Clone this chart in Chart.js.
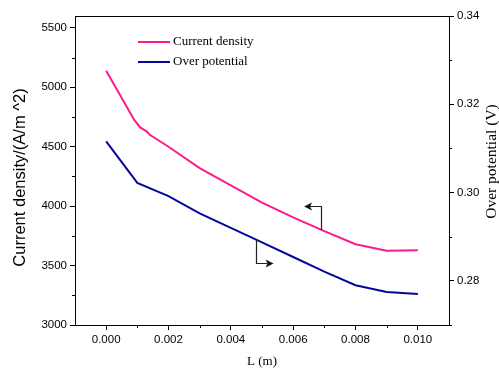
<!DOCTYPE html>
<html>
<head>
<meta charset="utf-8">
<script src="https://cdn.jsdelivr.net/npm/chart.js@4/dist/chart.umd.min.js"></script>
<style>
  html, body { margin: 0; padding: 0; background: #fff; }
  canvas { display: block; }
</style>
</head>
<body>
<canvas id="c" width="499" height="368"></canvas>
<script>
// Position along the electrode, L (m)
const densityL = [0, 0.0005, 0.0009, 0.0011, 0.0013, 0.0014, 0.002, 0.003, 0.004, 0.005, 0.006, 0.007, 0.008, 0.009, 0.010];
// Current density (A/m^2)
const densityValues = [5140, 4910, 4725, 4660, 4630, 4600, 4500, 4320, 4175, 4030, 3905, 3790, 3680, 3625, 3630];

const potentialL = [0, 0.001, 0.002, 0.003, 0.004, 0.005, 0.006, 0.007, 0.008, 0.009, 0.010];
// Over potential (V)
const potentialValues = [0.3116, 0.3022, 0.2992, 0.2953, 0.2920, 0.2887, 0.2854, 0.2821, 0.2790, 0.2775, 0.2770];

// Tick labels
const xTicks = [0, 0.002, 0.004, 0.006, 0.008, 0.010];
const xMinor = [0.001, 0.003, 0.005, 0.007, 0.009];
const leftTicks = [3000, 3500, 4000, 4500, 5000, 5500];
const leftMinor = [3250, 3750, 4250, 4750, 5250];
const rightTicks = [0.28, 0.30, 0.32, 0.34];
const rightMinor = [0.27, 0.29, 0.31, 0.33];

// Axis titles
const xTitle = 'L (m)';
const leftTitle = 'Current density/(A/m ^2)';
const rightTitle = 'Over potential (V)';

// Pointer arrows tying each curve to its axis (data units)
const densityPointer = { x: 0.0069, from: 3800, to: 4000, tip: 0.00635 };
const potentialPointer = { x: 0.0048, from: 0.2893, to: 0.2840, tip: 0.00537 };

const PINK = '#ff1a8c';
const NAVY = '#06069a';
const SERIF = '"Liberation Serif", "Times New Roman", serif';
const SANS = '"Liberation Sans", Arial, sans-serif';
const tickFont = { family: 'Liberation Sans, Arial, sans-serif', size: 11.5 };

const toPoints = (xs, ys) => xs.map((x, i) => ({ x, y: ys[i] }));

function setTicks(values) {
  return (scale) => { scale.ticks = values.map(v => ({ value: v })); };
}

const decorations = {
  id: 'decorations',
  afterDraw(chart) {
    const { ctx, chartArea: a, scales } = chart;
    const sx = scales.x, sl = scales.y, sr = scales.y1;
    ctx.save();
    ctx.strokeStyle = '#000';
    ctx.lineWidth = 1;

    // top frame line
    ctx.beginPath();
    ctx.moveTo(a.left, a.top + 0.5);
    ctx.lineTo(a.right, a.top + 0.5);
    ctx.stroke();

    // minor ticks
    ctx.beginPath();
    xMinor.forEach(v => {
      const px = Math.round(sx.getPixelForValue(v)) + 0.5;
      ctx.moveTo(px, a.bottom); ctx.lineTo(px, a.bottom + 3);
    });
    leftMinor.forEach(v => {
      const py = Math.round(sl.getPixelForValue(v)) + 0.5;
      ctx.moveTo(a.left, py); ctx.lineTo(a.left - 3, py);
    });
    rightMinor.forEach(v => {
      const py = Math.round(sr.getPixelForValue(v)) + 0.5;
      ctx.moveTo(a.right, py); ctx.lineTo(a.right + 3, py);
    });
    ctx.stroke();

    // legend inside the plot
    const items = chart.data.datasets;
    ctx.font = '13px ' + SERIF;
    ctx.textBaseline = 'middle';
    ctx.textAlign = 'left';
    items.forEach((ds, i) => {
      const y = a.top + 26 + i * 20;
      ctx.strokeStyle = ds.borderColor;
      ctx.lineWidth = 2;
      ctx.beginPath();
      ctx.moveTo(a.left + 63, y);
      ctx.lineTo(a.left + 95, y);
      ctx.stroke();
      ctx.fillStyle = '#000';
      ctx.fillText(ds.label, a.left + 98, y);
    });

    // pointer arrows
    function pointer(p, scaleY) {
      const x = Math.round(sx.getPixelForValue(p.x)) + 0.5;
      const y0 = scaleY.getPixelForValue(p.from);
      const y1 = Math.round(scaleY.getPixelForValue(p.to)) + 0.5;
      const tip = sx.getPixelForValue(p.tip);
      const dir = tip < x ? -1 : 1;
      ctx.strokeStyle = '#222';
      ctx.fillStyle = '#111';
      ctx.lineWidth = 1.2;
      ctx.beginPath();
      ctx.moveTo(x, y0);
      ctx.lineTo(x, y1);
      ctx.lineTo(tip - dir * 6, y1);
      ctx.stroke();
      ctx.beginPath();
      ctx.moveTo(tip, y1);
      ctx.lineTo(tip - dir * 8, y1 - 4);
      ctx.lineTo(tip - dir * 6, y1);
      ctx.lineTo(tip - dir * 8, y1 + 4);
      ctx.closePath();
      ctx.fill();
    }
    pointer(densityPointer, sl);
    pointer(potentialPointer, sr);

    // axis titles
    ctx.fillStyle = '#000';
    ctx.textAlign = 'center';
    ctx.textBaseline = 'middle';

    ctx.font = '13px ' + SERIF;
    ctx.fillText(xTitle, (a.left + a.right) / 2, a.bottom + 37);

    ctx.save();
    ctx.translate(a.left - 55, (a.top + a.bottom) / 2 + 7);
    ctx.rotate(-Math.PI / 2);
    ctx.font = '16.5px ' + SANS;
    ctx.fillText(leftTitle, 0, 0);
    ctx.restore();

    ctx.save();
    ctx.translate(a.right + 43, (a.top + a.bottom) / 2 - 9);
    ctx.rotate(-Math.PI / 2);
    ctx.font = '15.5px ' + SERIF;
    ctx.fillText(rightTitle, 0, 0);
    ctx.restore();

    ctx.restore();
  }
};

new Chart(document.getElementById('c'), {
  type: 'line',
  data: {
    datasets: [
      {
        label: 'Current density',
        data: toPoints(densityL, densityValues),
        borderColor: PINK,
        borderWidth: 2,
        pointRadius: 0,
        tension: 0,
        yAxisID: 'y'
      },
      {
        label: 'Over potential',
        data: toPoints(potentialL, potentialValues),
        borderColor: NAVY,
        borderWidth: 2,
        pointRadius: 0,
        tension: 0,
        yAxisID: 'y1'
      }
    ]
  },
  options: {
    responsive: false,
    animation: false,
    parsing: false,
    layout: { padding: { top: 16, right: 0, left: 0, bottom: 0 } },
    plugins: { legend: { display: false }, tooltip: { enabled: false } },
    scales: {
      x: {
        type: 'linear',
        min: -0.001,
        max: 0.011,
        afterBuildTicks: setTicks(xTicks),
        afterFit: (s) => { s.height = 43; },
        ticks: {
          color: '#000', font: tickFont, padding: 3, maxRotation: 0,
          callback: (v) => Number(v).toFixed(3)
        },
        grid: { drawOnChartArea: false, drawTicks: true, tickLength: 5, color: '#000' },
        border: { display: true, color: '#000', width: 1 }
      },
      y: {
        type: 'linear',
        position: 'left',
        min: 3000,
        max: 5600,
        afterBuildTicks: setTicks(leftTicks),
        afterFit: (s) => { s.width = 75; },
        ticks: { color: '#000', font: tickFont, padding: 3, callback: (v) => String(v) },
        grid: { drawOnChartArea: false, drawTicks: true, tickLength: 5, color: '#000' },
        border: { display: true, color: '#000', width: 1 }
      },
      y1: {
        type: 'linear',
        position: 'right',
        min: 0.27,
        max: 0.34,
        afterBuildTicks: setTicks(rightTicks),
        afterFit: (s) => { s.width = 50; },
        ticks: {
          color: '#000', font: tickFont, padding: 3,
          callback: (v) => Number(v).toFixed(2)
        },
        grid: { drawOnChartArea: false, drawTicks: true, tickLength: 5, color: '#000' },
        border: { display: true, color: '#000', width: 1 }
      }
    }
  },
  plugins: [decorations]
});
</script>
</body>
</html>
